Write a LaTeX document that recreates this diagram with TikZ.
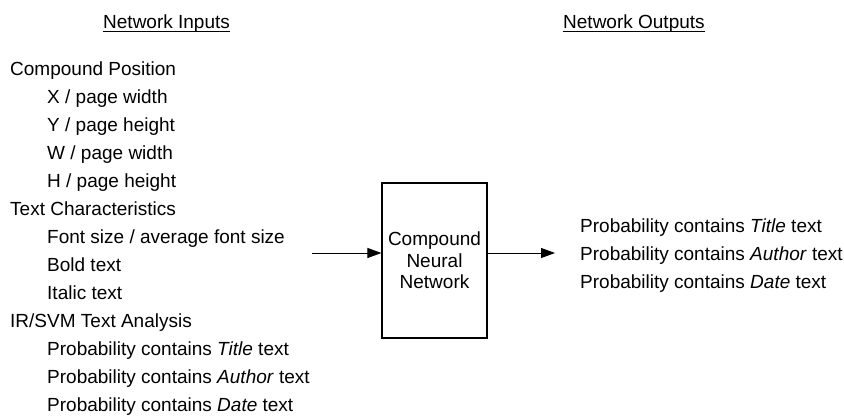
\documentclass[tikz,border=0pt]{standalone}
\usepackage{fontspec}
\setmainfont{Liberation Sans}
\usetikzlibrary{arrows.meta}

\tikzset{
  txt/.style={anchor=base west, inner sep=0pt, font=\fontsize{19}{22}\selectfont},
  head/.style={anchor=base west, inner sep=0pt, font=\fontsize{19}{22}\selectfont},
  uline/.style={line width=1pt},
  netbox/.style={draw, line width=1.1pt, minimum width=105pt, minimum height=155pt,
    inner sep=0pt, align=center, font=\fontsize{19}{21.5}\selectfont},
  flow/.style={line width=1pt, -{Triangle[length=14pt,width=10pt]}},
}

\begin{document}
\begin{tikzpicture}[x=1pt, y=-1pt]
  \useasboundingbox (0,0) rectangle (844,418);

  % column headings
  \node[head] (hin)  at (103,28) {Network Inputs};
  \node[head] (hout) at (563,28) {Network Outputs};
  \draw[uline] ([yshift=-3pt]hin.base west)  -- ([yshift=-3pt]hin.base east);
  \draw[uline] ([yshift=-3pt]hout.base west) -- ([yshift=-3pt]hout.base east);

  % input list
  \node[txt] (g1)  at (10,75)  {Compound Position};
  \node[txt] (i1)  at (47,103) {X / page width};
  \node[txt] (i2)  at (47,131) {Y / page height};
  \node[txt] (i3)  at (47,159) {W / page width};
  \node[txt] (i4)  at (47,187) {H / page height};
  \node[txt] (g2)  at (10,215) {Text Characteristics};
  \node[txt] (i5)  at (47,243) {Font size / average font size};
  \node[txt] (i6)  at (47,271) {Bold text};
  \node[txt] (i7)  at (47,299) {Italic text};
  \node[txt] (g3)  at (10,327) {IR/SVM Text Analysis};
  \node[txt] (i8)  at (47,355) {Probability contains \textit{Title} text};
  \node[txt] (i9)  at (47,383) {Probability contains \textit{Author} text};
  \node[txt] (i10) at (47,411) {Probability contains \textit{Date} text};

  % network block
  \node[netbox] (net) at (434.5,260.5) {Compound\\Neural\\Network};

  % output list
  \node[txt] (o1) at (580,232) {Probability contains \textit{Title} text};
  \node[txt] (o2) at (580,260) {Probability contains \textit{Author} text};
  \node[txt] (o3) at (580,288) {Probability contains \textit{Date} text};

  % data flow
  \coordinate (src) at (312,253);
  \coordinate (dst) at (555,253);
  \draw[flow] (src) -- (src -| net.west);
  \draw[flow] (dst -| net.east) -- (dst);
\end{tikzpicture}
\end{document}
